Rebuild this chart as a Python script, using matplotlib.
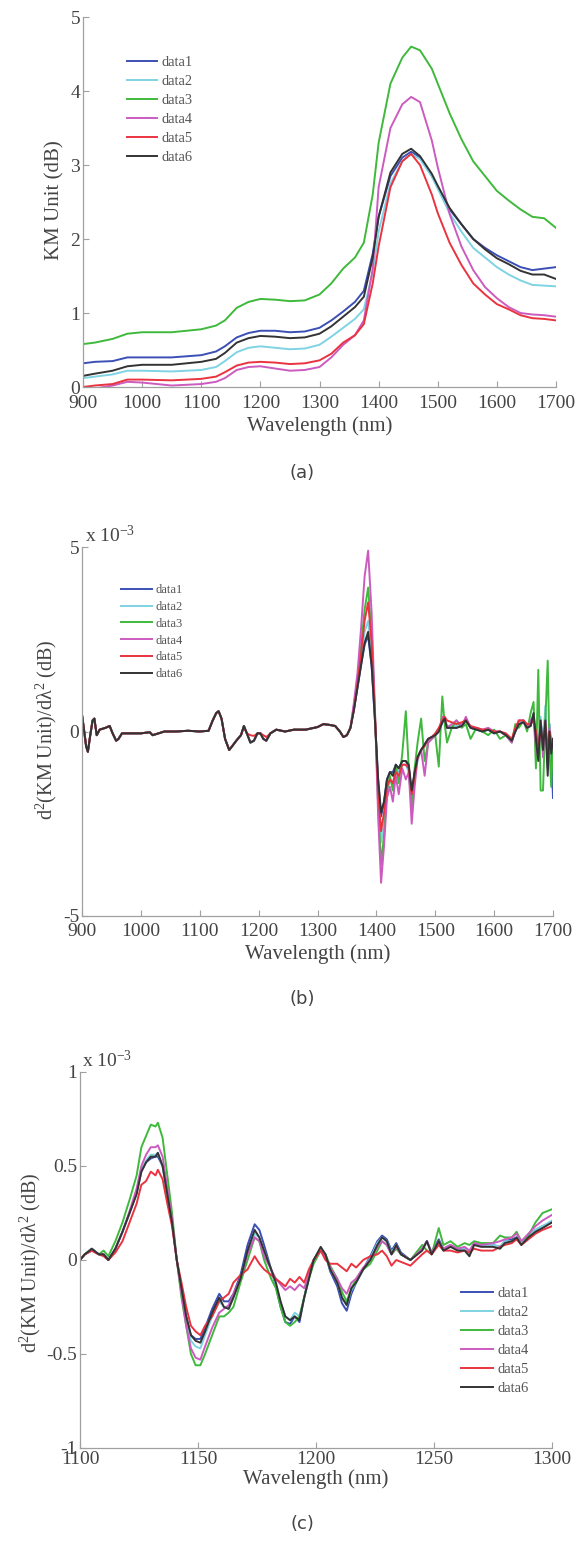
import matplotlib
matplotlib.use("Agg")
import matplotlib.pyplot as plt

# ---------------- data ----------------
names = ["data1", "data2", "data3", "data4", "data5", "data6"]
colors = ["#3b4fb4", "#7fd3e3", "#3fb93c", "#cc5bbf", "#ea3340", "#333333"]

# (a) KM spectra
wl_a = [900, 920, 950, 975, 1000, 1050, 1100, 1125, 1140, 1160, 1180, 1200, 1225, 1250,
        1275, 1300, 1320, 1340, 1360, 1375, 1390, 1400, 1420, 1440, 1455, 1470, 1490, 1500,
        1520, 1540, 1560, 1580, 1600, 1620, 1640, 1660, 1680, 1700]
km1 = [0.32, 0.34, 0.35, 0.40, 0.40, 0.40, 0.43, 0.48, 0.55, 0.67, 0.73, 0.76, 0.76, 0.74,
       0.75, 0.80, 0.90, 1.02, 1.15, 1.30, 1.80, 2.30, 2.85, 3.10, 3.18, 3.10, 2.85, 2.70,
       2.40, 2.20, 2.00, 1.88, 1.78, 1.70, 1.62, 1.58, 1.60, 1.62]
km2 = [0.12, 0.14, 0.17, 0.22, 0.22, 0.21, 0.23, 0.27, 0.35, 0.47, 0.53, 0.55, 0.53, 0.51,
       0.52, 0.57, 0.68, 0.80, 0.92, 1.05, 1.55, 2.10, 2.75, 3.05, 3.15, 3.08, 2.85, 2.68,
       2.35, 2.10, 1.88, 1.75, 1.62, 1.52, 1.44, 1.38, 1.37, 1.36]
km3 = [0.58, 0.60, 0.65, 0.72, 0.74, 0.74, 0.78, 0.83, 0.90, 1.07, 1.15, 1.19, 1.18, 1.16,
       1.17, 1.25, 1.40, 1.60, 1.75, 1.95, 2.60, 3.30, 4.10, 4.45, 4.60, 4.55, 4.30, 4.10,
       3.70, 3.35, 3.05, 2.85, 2.65, 2.52, 2.40, 2.30, 2.28, 2.15]
km4 = [-0.03, -0.02, 0.02, 0.07, 0.06, 0.02, 0.04, 0.07, 0.12, 0.23, 0.27, 0.28, 0.25, 0.22,
       0.23, 0.27, 0.40, 0.57, 0.70, 0.90, 1.60, 2.70, 3.50, 3.82, 3.92, 3.85, 3.33, 2.97,
       2.34, 1.90, 1.58, 1.35, 1.20, 1.08, 1.00, 0.98, 0.97, 0.95]
km5 = [0.00, 0.02, 0.04, 0.10, 0.10, 0.09, 0.11, 0.14, 0.20, 0.29, 0.33, 0.34, 0.33, 0.31,
       0.32, 0.36, 0.45, 0.60, 0.70, 0.85, 1.40, 1.90, 2.70, 3.05, 3.15, 3.00, 2.60, 2.35,
       1.95, 1.65, 1.40, 1.25, 1.12, 1.05, 0.97, 0.93, 0.92, 0.90]
km6 = [0.15, 0.18, 0.22, 0.28, 0.30, 0.30, 0.34, 0.38, 0.46, 0.60, 0.66, 0.69, 0.68, 0.66,
       0.67, 0.72, 0.82, 0.95, 1.08, 1.22, 1.75, 2.30, 2.90, 3.15, 3.22, 3.12, 2.88, 2.72,
       2.42, 2.20, 2.00, 1.86, 1.74, 1.66, 1.57, 1.52, 1.52, 1.46]

# (b) second derivative, units of 1e-3, 900-1344 nm (curves overlap there)
wl_b_lo = [900, 903, 907, 910, 914, 918, 921, 925, 930, 940, 947, 952, 958, 962, 968, 980,
           1000, 1015, 1020, 1040, 1060, 1080, 1100, 1115, 1122, 1128, 1132, 1137, 1143, 1150,
           1155, 1162, 1170, 1175, 1180, 1186, 1192, 1198, 1203, 1208, 1213, 1220, 1230, 1245,
           1260, 1280, 1300, 1310, 1320, 1330, 1338, 1344]
d2_lo = [0.45, 0.1, -0.4, -0.55, -0.1, 0.3, 0.35, -0.1, 0.05, 0.1, 0.15, -0.05, -0.25, -0.2,
         -0.05, -0.05, -0.05, -0.02, -0.1, 0.0, 0.0, 0.02, 0.0, 0.02, 0.3, 0.5, 0.55, 0.35,
         -0.2, -0.5, -0.4, -0.25, -0.1, 0.15, -0.05, -0.3, -0.25, -0.05, -0.05, -0.2, -0.25,
         -0.05, 0.05, 0.0, 0.05, 0.05, 0.12, 0.2, 0.18, 0.15, 0.0, -0.15]
d2_lo_red = [0.45, 0.1, -0.4, -0.55, -0.1, 0.3, 0.35, -0.1, 0.05, 0.1, 0.15, -0.05, -0.25, -0.2,
             -0.05, -0.05, -0.05, -0.02, -0.1, 0.0, 0.0, 0.02, 0.0, 0.02, 0.3, 0.5, 0.55, 0.35,
             -0.2, -0.5, -0.4, -0.25, -0.1, 0.12, -0.05, -0.1, -0.12, -0.05, -0.05, -0.1, -0.15,
             -0.05, 0.05, 0.0, 0.05, 0.05, 0.12, 0.2, 0.18, 0.15, 0.0, -0.15]

# (b) 1350-1700 nm, each curve separately
wl_b_hi = [1350, 1356, 1362, 1368, 1374, 1380, 1386, 1392, 1398, 1403, 1408, 1413, 1418, 1423,
           1428, 1433, 1438, 1444, 1450, 1455, 1460, 1465, 1470, 1476, 1482, 1488, 1494, 1500,
           1506, 1512, 1516, 1520, 1528, 1536, 1545, 1552, 1560, 1570, 1580, 1590, 1600, 1610,
           1620, 1630, 1636, 1642, 1650, 1656, 1662, 1667, 1671, 1675, 1679, 1683, 1687, 1691,
           1694, 1697, 1700]
d2_hi1 = [-0.1, 0.1, 0.6, 1.2, 1.8, 2.35, 2.6, 1.75, 0.2, -1.3, -2.3, -1.9, -1.3, -1.1, -1.1,
          -0.9, -1.0, -0.8, -0.8, -0.95, -1.7, -1.1, -0.7, -0.5, -0.35, -0.2, -0.15, -0.1, 0.0,
          0.25, 0.35, 0.1, 0.1, 0.1, 0.15, 0.3, 0.1, 0.05, 0.0, 0.05, -0.05, 0.0, -0.1, -0.25,
          0.0, 0.2, 0.25, 0.1, 0.15, 0.45, -0.3, -0.6, 0.3, -0.4, 0.5, -1.0, 0.2, -0.4, -1.8]
d2_hi2 = [-0.1, 0.1, 0.7, 1.3, 2.0, 2.7, 3.0, 2.0, 0.2, -1.6, -3.0, -2.5, -1.7, -1.3, -1.4,
          -1.0, -1.1, -0.9, -0.9, -1.1, -2.0, -1.3, -0.8, -0.5, -0.4, -0.2, -0.2, -0.1, 0.0,
          0.3, 0.4, 0.15, 0.15, 0.15, 0.2, 0.3, 0.1, 0.05, 0.0, 0.05, -0.05, 0.0, -0.1, -0.25,
          0.0, 0.25, 0.3, 0.1, 0.2, 0.5, -0.3, -0.7, 0.4, -0.5, 0.7, -0.9, 0.2, -0.5, -0.3]
d2_hi3 = [-0.1, 0.1, 0.7, 1.4, 2.3, 3.3, 3.9, 2.6, 0.3, -2.0, -3.6, -2.8, -1.6, -1.2, -1.6,
          -0.9, -1.4, -0.6, 0.55, -1.0, -2.1, -1.0, -0.3, 0.35, -0.8, -0.3, -0.2, -0.1, -0.95,
          0.95, 0.2, -0.3, 0.1, 0.3, 0.1, 0.2, -0.2, 0.1, 0.0, -0.1, 0.05, -0.2, -0.1, -0.3,
          0.2, 0.1, 0.3, 0.0, 0.5, 0.8, -1.0, 1.67, -1.6, -1.6, 0.3, 1.92, -0.5, -1.5, -0.2]
d2_hi4 = [-0.1, 0.1, 0.8, 1.6, 2.8, 4.2, 4.9, 3.2, 0.4, -2.3, -4.1, -3.1, -1.8, -1.5, -1.9,
          -1.2, -1.7, -1.0, -1.3, -1.1, -2.5, -1.5, -0.7, -0.5, -1.2, -0.3, -0.2, -0.1, 0.0,
          0.4, 0.35, 0.1, 0.2, 0.3, 0.15, 0.4, 0.1, 0.1, 0.05, 0.1, 0.0, 0.0, -0.1, -0.3,
          0.05, 0.3, 0.3, 0.1, 0.3, 0.4, -0.4, -0.7, 0.2, -0.7, 0.3, -0.8, 0.1, -0.5, -0.3]
d2_hi5 = [-0.1, 0.1, 0.6, 1.3, 2.1, 3.0, 3.5, 2.4, 0.3, -1.6, -2.7, -2.2, -1.5, -1.3, -1.4,
          -1.1, -1.2, -0.9, -0.9, -1.0, -1.7, -1.2, -0.7, -0.5, -0.4, -0.2, -0.15, -0.05, 0.1,
          0.3, 0.4, 0.3, 0.25, 0.2, 0.25, 0.3, 0.15, 0.1, 0.05, 0.05, 0.0, 0.0, -0.05, -0.2,
          0.1, 0.3, 0.3, 0.2, 0.2, 0.3, 0.0, -0.4, 0.1, -0.3, 0.2, -0.5, 0.0, -0.3, -0.2]
d2_hi6 = [-0.1, 0.1, 0.6, 1.2, 1.8, 2.4, 2.7, 1.8, 0.2, -1.3, -2.2, -1.9, -1.3, -1.1, -1.2,
          -0.9, -1.0, -0.8, -0.8, -0.9, -1.6, -1.1, -0.7, -0.5, -0.35, -0.2, -0.15, -0.1, 0.0,
          0.25, 0.35, 0.1, 0.1, 0.1, 0.15, 0.3, 0.1, 0.05, 0.0, 0.05, -0.05, 0.0, -0.1, -0.25,
          0.0, 0.2, 0.25, 0.1, 0.15, 0.5, -0.2, -0.8, 0.3, -0.5, 0.3, -1.2, 0.0, -0.6, -0.2]

# (c) zoom 1100-1300 nm, units of 1e-3
wl_c = [1100, 1102, 1105, 1108, 1110, 1112, 1115, 1118, 1121, 1124, 1126, 1128, 1130, 1132,
        1133, 1135, 1137, 1139, 1141, 1143, 1145, 1147, 1149, 1151, 1153, 1156, 1159, 1161,
        1163, 1165, 1168, 1171, 1174, 1176, 1178, 1181, 1183, 1185, 1187, 1189, 1191, 1193,
        1195, 1197, 1199, 1202, 1204, 1206, 1209, 1211, 1213, 1215, 1217, 1220, 1223, 1226,
        1228, 1230, 1232, 1234, 1236, 1240, 1245, 1247, 1249, 1252, 1254, 1257, 1260, 1263,
        1265, 1267, 1270, 1275, 1278, 1280, 1283, 1285, 1287, 1290, 1293, 1296, 1300]
c1 = [0.0, 0.03, 0.06, 0.03, 0.03, 0.0, 0.06, 0.15, 0.25, 0.36, 0.47, 0.52, 0.54, 0.55,
      0.55, 0.5, 0.35, 0.2, 0.0, -0.15, -0.3, -0.4, -0.42, -0.42, -0.36, -0.26, -0.18, -0.22,
      -0.22, -0.18, -0.08, 0.08, 0.19, 0.16, 0.08, -0.05, -0.14, -0.25, -0.33, -0.34, -0.3, -0.33,
      -0.2, -0.08, 0.0, 0.06, 0.03, -0.06, -0.14, -0.23, -0.27, -0.18, -0.12, -0.05, 0.02, 0.1,
      0.13, 0.11, 0.05, 0.09, 0.04, 0.0, 0.06, 0.1, 0.04, 0.11, 0.06, 0.08, 0.06, 0.06,
      0.03, 0.09, 0.08, 0.08, 0.07, 0.1, 0.11, 0.12, 0.09, 0.13, 0.16, 0.18, 0.2]
c2 = [0.0, 0.03, 0.06, 0.03, 0.03, 0.0, 0.06, 0.15, 0.25, 0.36, 0.48, 0.53, 0.56, 0.56,
      0.57, 0.5, 0.35, 0.2, 0.0, -0.16, -0.32, -0.43, -0.46, -0.47, -0.4, -0.3, -0.22, -0.25,
      -0.26, -0.2, -0.1, 0.04, 0.14, 0.12, 0.05, -0.05, -0.13, -0.23, -0.3, -0.32, -0.28, -0.3,
      -0.2, -0.1, 0.0, 0.06, 0.03, -0.05, -0.12, -0.2, -0.24, -0.16, -0.12, -0.05, 0.01, 0.09,
      0.12, 0.1, 0.04, 0.08, 0.03, 0.0, 0.06, 0.1, 0.04, 0.1, 0.06, 0.08, 0.06, 0.06,
      0.03, 0.09, 0.08, 0.08, 0.07, 0.1, 0.1, 0.12, 0.09, 0.13, 0.16, 0.18, 0.21]
c3 = [0.0, 0.03, 0.05, 0.03, 0.05, 0.02, 0.1, 0.2, 0.32, 0.45, 0.6, 0.66, 0.72, 0.71,
      0.73, 0.65, 0.45, 0.25, 0.0, -0.2, -0.35, -0.5, -0.56, -0.56, -0.5, -0.4, -0.3, -0.3,
      -0.28, -0.25, -0.12, 0.0, 0.12, 0.1, 0.0, -0.1, -0.15, -0.25, -0.33, -0.35, -0.33, -0.3,
      -0.2, -0.1, -0.02, 0.05, 0.03, -0.03, -0.1, -0.17, -0.22, -0.15, -0.1, -0.05, -0.02, 0.05,
      0.1, 0.08, 0.03, 0.06, 0.03, 0.0, 0.08, 0.05, 0.03, 0.17, 0.08, 0.1, 0.07, 0.09,
      0.08, 0.1, 0.09, 0.09, 0.13, 0.12, 0.12, 0.15, 0.1, 0.13, 0.2, 0.25, 0.27]
c4 = [0.0, 0.03, 0.05, 0.03, 0.03, 0.0, 0.06, 0.15, 0.26, 0.38, 0.5, 0.56, 0.6, 0.6,
      0.61, 0.55, 0.38, 0.22, 0.0, -0.18, -0.35, -0.47, -0.52, -0.53, -0.46, -0.36, -0.28, -0.26,
      -0.24, -0.18, -0.1, 0.03, 0.12, 0.1, 0.02, -0.05, -0.1, -0.13, -0.16, -0.14, -0.16, -0.13,
      -0.15, -0.08, 0.0, 0.05, 0.02, -0.04, -0.1, -0.15, -0.18, -0.12, -0.1, -0.04, 0.0, 0.07,
      0.1, 0.08, 0.03, 0.07, 0.03, 0.0, 0.06, 0.1, 0.04, 0.1, 0.06, 0.08, 0.06, 0.07,
      0.05, 0.09, 0.08, 0.09, 0.1, 0.11, 0.12, 0.14, 0.1, 0.14, 0.18, 0.21, 0.24]
c5 = [0.0, 0.03, 0.05, 0.03, 0.02, 0.0, 0.04, 0.1, 0.2, 0.3, 0.4, 0.42, 0.47, 0.45,
      0.48, 0.43, 0.3, 0.18, 0.0, -0.12, -0.25, -0.35, -0.38, -0.4, -0.35, -0.3, -0.22, -0.2,
      -0.18, -0.12, -0.08, -0.05, 0.02, -0.02, -0.05, -0.08, -0.1, -0.12, -0.14, -0.1, -0.12, -0.09,
      -0.12, -0.05, 0.0, 0.05, 0.0, -0.02, -0.02, -0.04, -0.06, -0.02, -0.04, 0.0, 0.02, 0.03,
      0.05, 0.02, -0.03, 0.0, -0.01, -0.03, 0.03, 0.05, 0.03, 0.08, 0.05, 0.05, 0.04, 0.05,
      0.04, 0.06, 0.05, 0.05, 0.07, 0.08, 0.09, 0.11, 0.08, 0.11, 0.14, 0.16, 0.18]
c6 = [0.0, 0.03, 0.06, 0.03, 0.03, 0.0, 0.06, 0.15, 0.25, 0.35, 0.47, 0.52, 0.55, 0.55,
      0.57, 0.5, 0.35, 0.2, 0.0, -0.15, -0.3, -0.4, -0.43, -0.44, -0.38, -0.28, -0.2, -0.25,
      -0.26, -0.2, -0.1, 0.05, 0.16, 0.12, 0.05, -0.05, -0.12, -0.22, -0.3, -0.32, -0.3, -0.32,
      -0.2, -0.1, 0.0, 0.07, 0.03, -0.05, -0.12, -0.2, -0.24, -0.15, -0.12, -0.05, 0.0, 0.08,
      0.12, 0.1, 0.03, 0.08, 0.03, 0.0, 0.05, 0.1, 0.03, 0.1, 0.05, 0.07, 0.05, 0.05,
      0.02, 0.08, 0.07, 0.07, 0.06, 0.09, 0.1, 0.12, 0.08, 0.12, 0.15, 0.17, 0.2]

# ---------------- style ----------------
plt.rcParams['font.family'] = ['Liberation Serif', 'DejaVu Serif']
plt.rcParams['mathtext.fontset'] = 'custom'
plt.rcParams['mathtext.rm'] = 'Liberation Serif'
plt.rcParams['mathtext.it'] = 'Liberation Serif:italic'
plt.rcParams['axes.unicode_minus'] = False

W, H = 578, 1544
fig = plt.figure(figsize=(W / 100, H / 100), dpi=100)
txt_col = "#444444"
ax_col = "#a0a0a0"
d2_label = "d$^{2}$(KM Unit)/dλ$^{2}$ (dB)"


def make_axes(left, right, top, bottom, xpad):
    ax = fig.add_axes([left / W, 1 - bottom / H, (right - left) / W, (bottom - top) / H])
    for s in ["top", "right"]:
        ax.spines[s].set_visible(False)
    for s in ["left", "bottom"]:
        ax.spines[s].set_color(ax_col)
        ax.spines[s].set_linewidth(0.9)
    ax.tick_params(direction="in", length=4, width=0.8, color=ax_col,
                   labelsize=14, labelcolor=txt_col, pad=2)
    ax.tick_params(axis="x", pad=xpad)
    return ax


def add_legend(ax, x_px, y_px, fs, hl, ls):
    ax.legend(loc="upper left", bbox_to_anchor=(x_px / W, 1 - y_px / H),
              bbox_transform=fig.transFigure, frameon=False, fontsize=fs,
              handlelength=hl, handletextpad=0.3, labelspacing=ls,
              borderpad=0, borderaxespad=0, labelcolor="#555555")


# ---------------- (a) ----------------
ax1 = make_axes(83, 556, 17, 387, 6)
for y, c, n in zip([km1, km2, km3, km4, km5, km6], colors, names):
    ax1.plot(wl_a, y, color=c, lw=1.4, label=n)
ax1.set_xlim(900, 1700)
ax1.set_ylim(0, 5)
ax1.set_xticks(range(900, 1701, 100))
ax1.set_yticks([0, 1, 2, 3, 4, 5])
ax1.set_xlabel("Wavelength (nm)", fontsize=15, color=txt_col, labelpad=3)
ax1.set_ylabel("KM Unit (dB)", fontsize=15, color=txt_col, va="center")
ax1.yaxis.set_label_coords((55 - 83) / 473, (387 - 200) / 370)
add_legend(ax1, 127, 56, 10.4, 2.1, 0.4)
fig.text(302 / W, 1 - 473 / H, "(a)", family="DejaVu Sans", fontsize=13,
         color=txt_col, ha="center", va="center")

# ---------------- (b) ----------------
ax2 = make_axes(82, 553, 547, 916, 5)
b_series = [d2_lo + d2_hi1, d2_lo + d2_hi2, d2_lo + d2_hi3,
            d2_lo + d2_hi4, d2_lo_red + d2_hi5, d2_lo + d2_hi6]
for y, c, n in zip(b_series, colors, names):
    ax2.plot(wl_b_lo + wl_b_hi, y, color=c, lw=1.4, label=n)
ax2.set_xlim(900, 1700)
ax2.set_ylim(-5, 5)
ax2.set_xticks(range(900, 1701, 100))
ax2.set_yticks([-5, 0, 5])
ax2.set_xlabel("Wavelength (nm)", fontsize=15, color=txt_col, labelpad=3)
ax2.set_ylabel(d2_label, fontsize=14.5, color=txt_col, va="center")
ax2.yaxis.set_label_coords((46 - 82) / 471, (916 - 730) / 369)
add_legend(ax2, 121, 584, 9, 2.5, 0.39)
fig.text(85 / W, 1 - 542 / H, "x 10$^{-3}$", fontsize=14, color=txt_col,
         ha="left", va="baseline")
fig.text(302 / W, 1 - 999 / H, "(b)", family="DejaVu Sans", fontsize=13,
         color=txt_col, ha="center", va="center")

# ---------------- (c) ----------------
ax3 = make_axes(80, 552, 1072, 1448, 2)
for y, c, n in zip([c1, c2, c3, c4, c5, c6], colors, names):
    ax3.plot(wl_c, y, color=c, lw=1.4, label=n)
ax3.set_xlim(1100, 1300)
ax3.set_ylim(-1, 1)
ax3.set_xticks(range(1100, 1301, 50))
ax3.set_yticks([-1, -0.5, 0, 0.5, 1])
ax3.set_yticklabels(["-1", "-0.5", "0", "0.5", "1"])
ax3.set_xlabel("Wavelength (nm)", fontsize=15, color=txt_col, labelpad=1)
ax3.set_ylabel(d2_label, fontsize=14.5, color=txt_col, va="center")
ax3.yaxis.set_label_coords((30 - 80) / 472, (1448 - 1263) / 376)
add_legend(ax3, 461, 1287, 10.5, 2.2, 0.39)
fig.text(82 / W, 1 - 1067 / H, "x 10$^{-3}$", fontsize=14, color=txt_col,
         ha="left", va="baseline")
fig.text(302 / W, 1 - 1524 / H, "(c)", family="DejaVu Sans", fontsize=13,
         color=txt_col, ha="center", va="center")

fig.savefig("out.png", dpi=100)
